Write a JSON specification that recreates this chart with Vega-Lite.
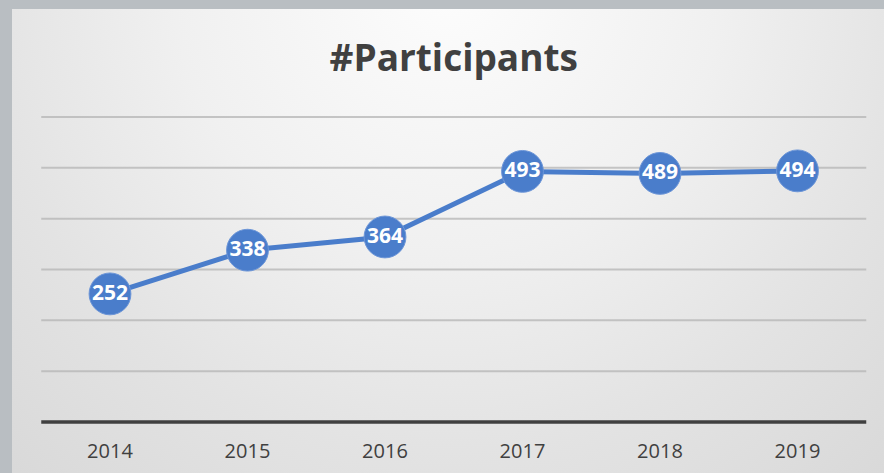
{
  "$schema": "https://vega.github.io/schema/vega-lite/v6.json",
  "autosize": "none",
  "width": 872,
  "height": 464,
  "padding": {"left": 12, "top": 9, "right": 0, "bottom": 0},
  "background": "#b9bec2",
  "view": {
    "stroke": null,
    "fill": {
      "gradient": "radial",
      "x1": 0.5, "y1": 0.2, "r1": 0,
      "x2": 0.5, "y2": 0.2, "r2": 0.9,
      "stops": [
        {"offset": 0, "color": "#fdfdfd"},
        {"offset": 0.35, "color": "#f0f0f0"},
        {"offset": 0.6, "color": "#e3e3e3"},
        {"offset": 1, "color": "#d2d2d2"}
      ]
    }
  },
  "data": {
    "values": [
      {"year": 2014, "participants": 252},
      {"year": 2015, "participants": 338},
      {"year": 2016, "participants": 364},
      {"year": 2017, "participants": 493},
      {"year": 2018, "participants": 489},
      {"year": 2019, "participants": 494}
    ]
  },
  "encoding": {
    "x": {
      "field": "year",
      "type": "quantitative",
      "scale": {"domain": [2013.2873, 2019.6291], "nice": false, "zero": false},
      "axis": null
    },
    "y": {
      "field": "participants",
      "type": "quantitative",
      "scale": {"domain": [-100.33, 812.46], "nice": false, "zero": false},
      "axis": null
    }
  },
  "layer": [
    {
      "transform": [{"filter": "datum.year == 2014"}],
      "mark": {"type": "tick", "orient": "horizontal", "color": "#b4b4b4", "thickness": 2, "size": 825, "opacity": 0.75},
      "encoding": {"x": {"datum": 2016.5, "type": "quantitative"}, "y": {"datum": 100, "type": "quantitative"}}
    },
    {
      "transform": [{"filter": "datum.year == 2014"}],
      "mark": {"type": "tick", "orient": "horizontal", "color": "#b4b4b4", "thickness": 2, "size": 825, "opacity": 0.75},
      "encoding": {"x": {"datum": 2016.5, "type": "quantitative"}, "y": {"datum": 200, "type": "quantitative"}}
    },
    {
      "transform": [{"filter": "datum.year == 2014"}],
      "mark": {"type": "tick", "orient": "horizontal", "color": "#b4b4b4", "thickness": 2, "size": 825, "opacity": 0.75},
      "encoding": {"x": {"datum": 2016.5, "type": "quantitative"}, "y": {"datum": 300, "type": "quantitative"}}
    },
    {
      "transform": [{"filter": "datum.year == 2014"}],
      "mark": {"type": "tick", "orient": "horizontal", "color": "#b4b4b4", "thickness": 2, "size": 825, "opacity": 0.75},
      "encoding": {"x": {"datum": 2016.5, "type": "quantitative"}, "y": {"datum": 400, "type": "quantitative"}}
    },
    {
      "transform": [{"filter": "datum.year == 2014"}],
      "mark": {"type": "tick", "orient": "horizontal", "color": "#b4b4b4", "thickness": 2, "size": 825, "opacity": 0.75},
      "encoding": {"x": {"datum": 2016.5, "type": "quantitative"}, "y": {"datum": 500, "type": "quantitative"}}
    },
    {
      "transform": [{"filter": "datum.year == 2014"}],
      "mark": {"type": "tick", "orient": "horizontal", "color": "#b4b4b4", "thickness": 2, "size": 825, "opacity": 0.75},
      "encoding": {"x": {"datum": 2016.5, "type": "quantitative"}, "y": {"datum": 600, "type": "quantitative"}}
    },
    {
      "transform": [{"filter": "datum.year == 2014"}],
      "mark": {"type": "tick", "orient": "horizontal", "color": "#404040", "thickness": 3.5, "size": 825, "opacity": 1},
      "encoding": {"x": {"datum": 2016.5, "type": "quantitative"}, "y": {"datum": 0, "type": "quantitative"}}
    },
    {"mark": {"type": "line", "color": "#4a7dcb", "strokeWidth": 5}},
    {"mark": {"type": "circle", "size": 1750, "color": "#4a7dcb", "opacity": 1, "stroke": "#6d96d8", "strokeWidth": 1}},
    {
      "mark": {"type": "text", "color": "white", "font": "Open Sans", "fontSize": 21, "fontWeight": "bold", "baseline": "middle", "align": "center"},
      "encoding": {"text": {"field": "participants", "type": "quantitative"}}
    },
    {
      "mark": {"type": "text", "color": "#404040", "font": "Open Sans", "fontSize": 20, "baseline": "middle", "align": "center"},
      "encoding": {
        "y": {"datum": -59, "type": "quantitative"},
        "text": {"field": "year", "type": "quantitative", "format": "d"}
      }
    },
    {
      "transform": [{"filter": "datum.year == 2014"}],
      "mark": {"type": "text", "text": "#Participants", "color": "#404040", "font": "Open Sans", "fontSize": 37, "fontWeight": "bold", "baseline": "middle", "align": "center"},
      "encoding": {
        "x": {"datum": 2016.5, "type": "quantitative"},
        "y": {"datum": 712, "type": "quantitative"}
      }
    }
  ]
}
